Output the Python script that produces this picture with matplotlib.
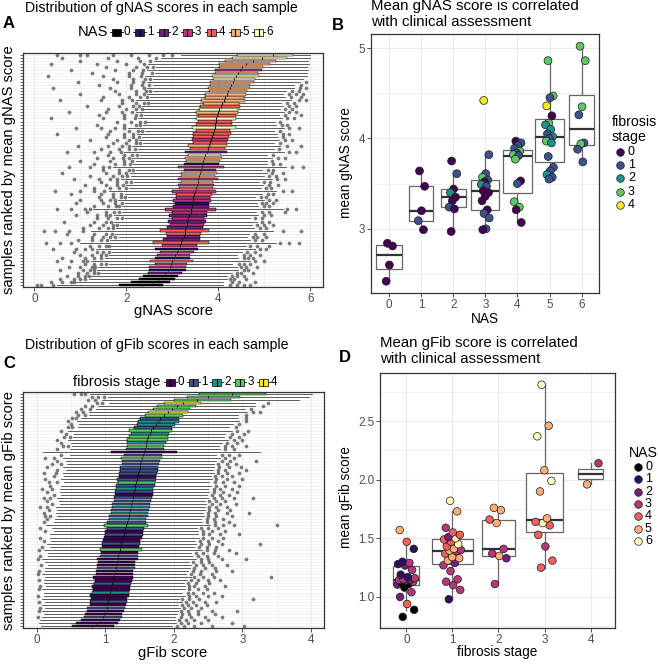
import numpy as np
import matplotlib
matplotlib.use('Agg')
import matplotlib.pyplot as plt
from matplotlib.patches import Rectangle

plt.rcParams['font.family'] = ['Liberation Sans', 'DejaVu Sans']

# ---------------- DATA ----------------
MAGMA7 = ['#000004', '#2D1160', '#721F81', '#B63679', '#F1605D', '#FEAF77', '#FCFDBF']
VIRIDIS5 = ['#440154', '#3B528B', '#21908C', '#5DC863', '#FDE725']

# Panel B: mean gNAS score per sample, grouped by NAS, coloured by fibrosis stage
nas_levels = [0, 1, 2, 3, 4, 5, 6]
b_vals = [
    [2.84, 2.81, 2.60, 2.42],
    [3.64, 3.47, 3.20, 3.09, 2.99],
    [3.75, 3.61, 3.44, 3.40, 3.35, 3.31, 3.24, 3.22, 2.97],
    [4.42, 3.82, 3.61, 3.57, 3.54, 3.52, 3.49, 3.47, 3.42, 3.40, 3.36, 3.31, 3.21, 3.17, 3.12, 3.00, 2.99],
    [3.97, 3.95, 3.92, 3.89, 3.86, 3.84, 3.82, 3.81, 3.77, 3.53, 3.50, 3.30, 3.24, 3.21, 3.07],
    [4.86, 4.47, 4.45, 4.36, 4.25, 4.17, 4.15, 4.10, 4.05, 4.02, 4.00, 3.97, 3.95, 3.80, 3.68, 3.64, 3.60, 3.57, 3.55],
    [5.02, 4.86, 4.35, 4.26, 3.95, 3.94, 3.88, 3.74],
]
b_stage = [
    [0, 0, 0, 0],
    [0, 0, 0, 1, 0],
    [0, 1, 0, 2, 0, 0, 1, 0, 0],
    [4, 1, 1, 3, 1, 0, 2, 1, 0, 0, 0, 0, 0, 1, 1, 1, 0],
    [0, 1, 1, 1, 3, 1, 3, 1, 3, 0, 1, 3, 3, 0, 0],
    [3, 3, 1, 4, 0, 3, 2, 2, 1, 2, 1, 3, 2, 1, 1, 1, 2, 1, 1],
    [3, 3, 3, 1, 1, 3, 1, 1],
]

# Panel D: mean gFib score per sample, grouped by fibrosis stage, coloured by NAS
stage_levels = [0, 1, 2, 3, 4]
d_vals = [
    [0.83, 0.89, 0.94, 1.00, 1.04, 1.08, 1.105, 1.11, 1.12, 1.13, 1.14, 1.145, 1.147, 1.15, 1.16,
     1.17, 1.19, 1.23, 1.268, 1.28, 1.29, 1.30, 1.41, 1.47, 1.57],
    [0.98, 1.06, 1.10, 1.13, 1.15, 1.22, 1.27, 1.29, 1.31, 1.33, 1.34, 1.37, 1.39, 1.395, 1.40,
     1.41, 1.43, 1.45, 1.47, 1.49, 1.50, 1.51, 1.53, 1.55, 1.59, 1.73, 1.82],
    [1.11, 1.33, 1.35, 1.37, 1.41, 1.63, 1.66, 1.74, 1.76],
    [1.25, 1.31, 1.43, 1.53, 1.61, 1.63, 1.64, 1.67, 1.90, 1.99, 2.08, 2.37, 2.46, 2.81],
    [1.96, 2.14],
]
d_nas = [
    [0, 0, 4, 2, 3, 0, 2, 0, 0, 3, 2, 3, 2, 3, 3, 1, 1, 3, 2, 1, 3, 1, 1, 4, 5],
    [1, 3, 3, 3, 3, 3, 3, 2, 5, 5, 5, 4, 3, 5, 3, 5, 4, 6, 4, 4, 6, 2, 4, 4, 3, 5, 6],
    [3, 2, 5, 3, 3, 5, 4, 5, 5],
    [4, 4, 3, 4, 4, 6, 4, 5, 5, 6, 5, 6, 5, 6],
    [5, 3],
]

# Panel A: per-sample gNAS distributions (row 0 = lowest ranked sample)
a_med = [2.35, 2.55, 2.68, 2.78, 2.85, 2.90, 2.95, 2.98, 3.00, 3.03,
         3.05, 3.10, 3.13, 3.17, 3.20, 3.22, 3.25, 3.27, 3.28, 3.30,
         3.32, 3.33, 3.35, 3.37, 3.40, 3.41, 3.42, 3.44, 3.45, 3.46,
         3.48, 3.50, 3.52, 3.53, 3.55, 3.57, 3.58, 3.60, 3.62, 3.64,
         3.65, 3.67, 3.70, 3.72, 3.75, 3.78, 3.80, 3.82, 3.84, 3.86,
         3.88, 3.90, 3.92, 3.93, 3.95, 3.96, 3.98, 4.00, 4.02, 4.05,
         4.08, 4.12, 4.15, 4.18, 4.22, 4.25, 4.28, 4.32, 4.35, 4.38,
         4.42, 4.47, 4.52, 4.60, 4.75, 4.95, 5.20]
a_box_lo = [.50, .45, .40, .42, .38, .40, .45, .35, .48, .40,
            .38, .36, .50, .40, .62, .42, .37, .40, .55, .41,
            .38, .42, .36, .45, .40, .58, .40, .38, .43, .37,
            .40, .50, .38, .41, .36, .44, .39, .40, .37, .52,
            .40, .38, .42, .37, .48, .40, .45, .38, .42, .40,
            .44, .39, .50, .41, .40, .45, .42, .48, .43, .45,
            .42, .50, .44, .46, .43, .48, .45, .50, .47, .52,
            .48, .55, .50, .58, .60, .65, .79]
a_box_hi = [.45, .40, .38, .35, .36, .40, .35, .33, .45, .36,
            .34, .37, .42, .36, .60, .38, .35, .36, .52, .37,
            .36, .40, .34, .38, .36, .55, .37, .36, .40, .35,
            .38, .45, .36, .37, .34, .42, .36, .38, .34, .48,
            .36, .36, .38, .35, .44, .37, .40, .36, .38, .37,
            .40, .36, .46, .38, .36, .42, .40, .44, .40, .42,
            .38, .47, .40, .42, .40, .44, .42, .46, .44, .50,
            .44, .48, .46, .52, .50, .55, .43]
a_whisk_lo = [1.35, 1.20, 1.10, 1.12, 1.05, 1.15, 1.12, 1.00, 1.30, 1.10,
              1.05, 1.05, 1.30, 1.10, 1.60, 1.15, 1.05, 1.12, 1.50, 1.12,
              1.08, 1.18, 1.02, 1.20, 1.10, 1.55, 1.12, 1.08, 1.20, 1.05,
              1.12, 1.38, 1.08, 1.12, 1.02, 1.25, 1.10, 1.12, 1.04, 1.42,
              1.10, 1.08, 1.15, 1.05, 1.32, 1.12, 1.22, 1.08, 1.15, 1.12,
              1.20, 1.10, 1.38, 1.15, 1.10, 1.25, 1.18, 1.32, 1.20, 1.25,
              1.15, 1.40, 1.20, 1.28, 1.20, 1.32, 1.25, 1.38, 1.30, 1.45,
              1.32, 1.48, 1.38, 1.55, 1.55, 1.55, 1.21]
a_whisk_hi = [1.30, 1.15, 1.12, 1.05, 1.08, 1.12, 1.10, 0.98, 1.25, 1.05,
              1.02, 1.05, 1.25, 1.08, 1.45, 1.10, 1.02, 1.05, 1.40, 1.10,
              1.05, 1.12, 1.00, 1.12, 1.06, 1.45, 1.08, 1.04, 1.15, 1.00,
              1.10, 1.30, 1.04, 1.08, 1.00, 1.18, 1.05, 1.08, 1.00, 1.35,
              1.06, 1.04, 1.10, 1.00, 1.25, 1.06, 1.15, 1.04, 1.10, 1.06,
              1.00, 0.95, 1.05, 0.95, 0.92, 1.00, 0.95, 1.00, 0.92, 0.95,
              0.90, 1.00, 0.90, 0.82, 0.85, 0.95, 0.95, 1.00, 1.05, 1.05,
              1.08, 1.00, 0.95, 0.85, 0.70, 0.50, 0.37]
a_out_lo = [
    [0.05, 0.15, 0.40], [0.35, 0.60, 0.80, 0.85], [0.55, 0.85, 1.00, 1.10], [0.70, 0.95, 1.10, 1.18],
    [0.95, 1.15, 1.30, 1.38], [0.55, 1.05, 1.20, 1.30], [0.75, 1.00, 1.25, 1.32], [1.10, 1.30, 1.45, 1.55],
    [0.50, 0.80, 1.05, 1.15], [0.60, 1.10, 1.30, 1.45], [1.00, 1.25, 1.45, 1.55], [0.85, 1.35, 1.50, 1.62],
    [0.40, 0.90, 1.10, 1.25], [1.20, 1.40, 1.55, 1.62], [0.25, 0.55, 0.80], [0.95, 1.25, 1.45, 1.58],
    [1.25, 1.50, 1.65, 1.75], [0.70, 1.30, 1.55, 1.68], [0.20, 0.45, 0.75, 1.05], [1.05, 1.40, 1.60, 1.70],
    [1.20, 1.50, 1.70, 1.80], [0.65, 1.30, 1.55, 1.66], [1.35, 1.60, 1.80, 1.90], [0.90, 1.35, 1.55, 1.65],
    [1.15, 1.55, 1.72, 1.85], [0.50, 0.80, 1.10, 1.20], [1.30, 1.60, 1.78, 1.85], [0.90, 1.50, 1.75, 1.90],
    [1.00, 1.45, 1.65, 1.75], [1.40, 1.70, 1.88, 1.98], [0.80, 1.45, 1.70, 1.88], [0.45, 1.00, 1.30, 1.52],
    [1.30, 1.65, 1.85, 2.00], [1.10, 1.55, 1.80, 1.93], [1.45, 1.80, 2.00, 2.10], [0.85, 1.40, 1.65, 1.80],
    [1.20, 1.70, 1.90, 2.02], [0.60, 1.55, 1.85, 2.00], [1.50, 1.85, 2.05, 2.15], [0.75, 1.20, 1.50, 1.62],
    [1.30, 1.75, 1.95, 2.08], [1.00, 1.65, 1.95, 2.12], [1.35, 1.70, 1.92, 2.05], [1.60, 1.95, 2.12, 2.24],
    [0.70, 1.30, 1.65, 1.88], [1.45, 1.85, 2.05, 2.18], [0.95, 1.60, 1.90, 2.05], [1.70, 2.00, 2.20, 2.30],
    [1.20, 1.80, 2.05, 2.20], [1.55, 1.95, 2.15, 2.28], [0.50, 1.60, 1.95, 2.15], [1.65, 2.05, 2.25, 2.35],
    [0.90, 1.45, 1.75, 1.95], [1.35, 1.95, 2.20, 2.30], [1.80, 2.10, 2.30, 2.40], [0.35, 1.50, 1.95, 2.18],
    [1.40, 1.95, 2.20, 2.32], [0.75, 1.55, 1.90, 2.12], [1.60, 2.00, 2.22, 2.33], [1.15, 1.85, 2.15, 2.28],
    [1.90, 2.20, 2.38, 2.46], [0.55, 1.45, 1.90, 2.12], [1.50, 2.05, 2.30, 2.44], [1.00, 1.85, 2.20, 2.38],
    [1.75, 2.20, 2.42, 2.52], [0.40, 1.65, 2.10, 2.38], [1.40, 2.10, 2.35, 2.50], [0.95, 1.80, 2.15, 2.36],
    [1.70, 2.15, 2.40, 2.52], [0.30, 1.50, 2.05, 2.32], [1.25, 2.05, 2.35, 2.55], [0.80, 1.75, 2.15, 2.36],
    [1.55, 2.20, 2.45, 2.58], [0.35, 1.35, 2.00, 2.38], [1.00, 1.80, 2.30, 2.52], [0.60, 1.60, 2.25, 2.65],
    [0.50, 1.00, 1.15, 1.70, 2.10, 2.50, 2.80, 3.00],
]
a_out_hi = [
    [4.25, 4.40, 4.55, 4.70], [4.30, 4.45, 4.80], [4.25, 4.35, 4.60], [4.30, 4.40, 4.55],
    [4.40, 4.50, 4.75], [4.55, 4.65], [4.50, 4.60, 4.85], [4.45, 4.55, 4.70],
    [4.80, 5.00], [4.55, 4.65, 4.75], [4.55, 4.70, 4.90], [4.62, 4.80],
    [4.90, 5.05], [4.70, 4.85, 5.10], [5.35, 5.55, 5.75], [4.80, 4.95],
    [4.75, 4.85, 5.05], [4.80, 5.00], [5.40, 5.80], [4.90, 5.05],
    [4.85, 5.00, 5.20], [4.95, 5.10], [4.80, 4.95], [5.00, 5.15],
    [4.95, 5.10, 5.45], [5.50, 5.70], [5.00, 5.10], [4.95, 5.05, 5.20],
    [5.10, 5.25], [4.92, 5.05], [5.08, 5.20], [5.40, 5.60],
    [5.05, 5.15], [5.10, 5.30], [5.00, 5.12], [5.28, 5.45],
    [5.10, 5.25], [5.18, 5.40], [5.08, 5.20], [5.60, 5.85],
    [5.20, 5.35], [5.18], [5.30, 5.45], [5.20],
    [5.55, 5.70], [5.32], [5.50, 5.80], [5.35],
    [5.45, 5.60], [5.40], [5.40, 5.55], [5.35],
    [5.55, 5.75], [5.38, 5.50], [5.35], [5.50, 5.65],
    [5.45, 5.80], [5.55, 5.70], [5.45, 5.60], [5.55, 5.70],
    [5.50, 5.65], [5.75, 5.90], [5.58, 5.80], [5.55, 5.70, 5.85],
    [5.60, 5.75], [5.78, 5.90], [5.80], [5.90],
    [], [], [], [], [], [], [], [], [],
]

# Panel C: per-sample gFib distributions (row 0 = lowest ranked sample)
c_med = [0.80, 0.88, 0.93, 0.96, 0.98, 1.00, 1.02, 1.03, 1.04, 1.05,
         1.06, 1.07, 1.08, 1.09, 1.10, 1.11, 1.12, 1.13, 1.14, 1.15,
         1.16, 1.17, 1.18, 1.19, 1.20, 1.21, 1.22, 1.23, 1.24, 1.26,
         1.27, 1.28, 1.29, 1.30, 1.31, 1.33, 1.34, 1.35, 1.36, 1.37,
         1.38, 1.39, 1.40, 1.41, 1.42, 1.43, 1.44, 1.45, 1.46, 1.47,
         1.48, 1.49, 1.50, 1.51, 1.52, 1.53, 1.55, 1.57, 1.58, 1.59,
         1.60, 1.61, 1.63, 1.65, 1.67, 1.70, 1.74, 1.77, 1.80, 1.86,
         1.92, 1.97, 2.05, 2.14, 2.34, 2.50, 2.85]
c_box_lo = [.29, .30, .28, .27, .28, .27, .28, .26, .27, .26,
            .28, .27, .26, .28, .27, .26, .30, .27, .28, .27,
            .28, .27, .30, .27, .26, .29, .27, .28, .27, .28,
            .27, .28, .27, .32, .28, .27, .28, .27, .28, .27,
            .28, .27, .28, .27, .28, .27, .28, .27, .29, .27,
            .28, .27, .28, .27, .28, .30, .27, .48, .28, .27,
            .28, .30, .28, .28, .32, .28, .28, .30, .30, .28,
            .30, .28, .30, .29, .34, .31, .49]
c_box_hi = [.32, .30, .29, .28, .27, .28, .27, .27, .28, .26,
            .28, .27, .28, .27, .27, .28, .28, .27, .27, .28,
            .27, .27, .30, .28, .27, .32, .27, .28, .27, .28,
            .28, .27, .27, .33, .28, .27, .28, .27, .28, .28,
            .27, .27, .28, .28, .27, .27, .28, .27, .28, .27,
            .28, .28, .27, .27, .28, .30, .27, .48, .28, .27,
            .28, .30, .28, .28, .30, .28, .28, .30, .28, .27,
            .28, .27, .28, .25, .49, .47, .49]
c_whisk_lo = [.45, .55, .60, .62, .60, .65, .62, .70, .65, .72,
              .68, .70, .75, .68, .72, .75, .70, .78, .74, .76,
              .72, .78, .80, .76, .78, .82, .76, .80, .76, .78,
              .80, .75, .80, .85, .78, .80, .76, .80, .78, .82,
              .76, .80, .82, .78, .80, .82, .80, .78, .82, .80,
              .82, .80, .84, .80, .82, .85, .80, 1.00, .82, .80,
              .82, .85, .82, .82, .90, .82, .84, .88, .86, .82,
              .86, .82, .86, .80, 1.05, 1.15, 1.58]
c_whisk_hi = [.85, .85, .80, .78, .80, .78, .80, .76, .80, .76,
              .82, .78, .80, .80, .78, .80, .85, .78, .80, .80,
              .82, .78, .85, .80, .78, .88, .80, .82, .80, .82,
              .80, .80, .78, .90, .82, .80, .82, .80, .82, .80,
              .82, .80, .82, .80, .82, .80, .82, .80, .82, .80,
              .82, .80, .82, .80, .82, .85, .80, 1.20, .82, .80,
              .82, .88, .82, .82, .88, .82, .84, .88, .86, .80,
              .86, .80, .86, .80, 1.00, 1.00, .68]
c_out_lo = [
    [], [], [], [0.02], [], [0.03], [0.05], [], [0.04], [],
    [0.02], [], [0.03], [0.05], [], [0.03], [], [0.02], [0.04], [],
    [0.06], [], [0.02], [0.05], [], [0.03], [0.08], [], [0.10], [0.05],
    [], [0.12], [0.05], [], [0.10], [0.15], [0.12, 0.20], [0.10], [0.18], [0.05, 0.15],
    [0.22], [0.15], [0.10, 0.20], [0.25], [0.15], [0.08, 0.22], [0.20], [0.18, 0.30], [0.12], [0.25],
    [0.10, 0.28], [0.30], [0.15], [0.22, 0.35], [0.30], [0.12, 0.25], [0.35], [], [0.30], [0.38, 0.45],
    [0.35], [0.30], [0.40, 0.48], [0.42], [0.35], [0.45, 0.52], [0.50], [0.45], [0.52, 0.58], [0.60, 0.70],
    [0.58, 0.68], [0.65, 0.78], [0.70, 0.80], [0.88, 0.95], [0.75, 0.85], [0.80, 0.90, 0.98], [0.55, 0.65, 0.70],
]
c_out_hi = [
    [2.05, 2.15, 2.30, 2.55, 3.02], [2.10, 2.20, 2.40, 2.85], [2.08, 2.18, 2.30, 2.50], [2.10, 2.25, 2.45, 2.70],
    [2.12, 2.22, 2.35, 2.60], [2.10, 2.20, 2.35, 2.55, 2.92], [2.15, 2.25, 2.40], [2.12, 2.20, 2.32, 2.48],
    [2.18, 2.28, 2.45, 2.62], [2.12, 2.22, 2.36, 3.15], [2.22, 2.32, 2.50, 2.70], [2.20, 2.28, 2.42, 2.58],
    [2.22, 2.35, 2.48], [2.22, 2.30, 2.45, 2.75], [2.20, 2.32, 2.52], [2.25, 2.35, 2.50, 2.68],
    [2.30, 2.42, 2.58, 3.42], [2.25, 2.38, 2.55], [2.28, 2.40, 2.62, 2.85], [2.30, 2.45, 2.60],
    [2.32, 2.42, 2.55, 2.78], [2.28, 2.40, 2.52], [2.40, 2.50, 2.70, 3.05], [2.35, 2.48, 2.65],
    [2.32, 2.42, 2.58, 2.90], [2.48, 2.60, 2.80], [2.36, 2.48, 2.62], [2.40, 2.52, 2.70, 3.25],
    [2.38, 2.50, 2.65], [2.42, 2.55, 2.72], [2.42, 2.52, 2.68, 2.95], [2.42, 2.55, 2.75],
    [2.40, 2.50, 2.65], [2.60, 2.72, 2.88, 3.50], [2.48, 2.60, 2.80], [2.48, 2.58, 2.72],
    [2.50, 2.62, 2.85], [2.50, 2.60, 2.78, 3.10], [2.52, 2.65, 2.82], [2.52, 2.62, 2.78],
    [2.55, 2.68, 2.90], [2.52, 2.62, 2.75], [2.58, 2.70, 2.88, 3.15], [2.55, 2.68, 2.80],
    [2.58, 2.72, 2.92], [2.58, 2.68, 2.85], [2.62, 2.75, 2.95], [2.60, 2.72, 2.88],
    [2.62, 2.78, 3.00], [2.60, 2.70, 2.85], [2.65, 2.78, 2.95], [2.65, 2.75, 3.05],
    [2.66, 2.80, 2.98], [2.65, 2.78, 2.90], [2.70, 2.82, 3.20], [2.75, 2.88],
    [2.70, 2.80, 2.95], [], [2.75, 2.88], [2.75, 2.85, 3.05],
    [2.78, 2.92], [2.88, 3.00], [2.82, 2.95], [2.85, 3.02],
    [2.92, 3.08], [2.90], [2.95], [3.05],
    [3.05], [3.05], [3.15, 3.25], [3.12], [3.30], [3.38], [], [], [],
]

# ---------------- FIGURE ----------------
W, H = 658, 664
fig = plt.figure(figsize=(W / 100, H / 100), dpi=100)


def ax_rect(l, t, r, b):
    return [l / W, 1 - b / H, (r - l) / W, (b - t) / H]


GRID = '#EBEBEB'
FRAME = '#333333'
TICKC = '#4D4D4D'


def style_frame(ax):
    for s in ax.spines.values():
        s.set_color(FRAME)
        s.set_linewidth(0.9)
    ax.tick_params(colors=FRAME, labelcolor=TICKC, labelsize=8.4, length=2.6, width=0.6, pad=1.5)
    ax.set_axisbelow(True)


def golden_offsets(n, w):
    return [((k * 0.6180339887 + 0.31) % 1.0 - 0.5) * 2 * w for k in range(n)]


def ranked_colors(vals, groups, palette):
    pairs = []
    for vs, gs in zip(vals, groups):
        pairs += list(zip(vs, gs))
    pairs.sort(key=lambda p: p[0])
    return [palette[g] for _, g in pairs]


def draw_ranked_boxes(ax, med, blo, bhi, wlo, whi, olo, ohi, colors):
    stats = []
    for i in range(len(med)):
        q1 = med[i] - blo[i]
        q3 = med[i] + bhi[i]
        stats.append(dict(med=med[i], q1=q1, q3=q3, whislo=q1 - wlo[i], whishi=q3 + whi[i],
                          fliers=np.array(olo[i] + ohi[i])))
    pos = np.arange(len(med))
    bp = ax.bxp(stats, positions=pos, widths=0.85, orientation='horizontal', patch_artist=True,
                showcaps=False, manage_ticks=False,
                boxprops=dict(linewidth=0.35, edgecolor='black'),
                medianprops=dict(color='#111111', linewidth=0.8),
                whiskerprops=dict(color='#222222', linewidth=0.5),
                flierprops=dict(marker='o', markerfacecolor='#262626', markeredgecolor='none',
                                markersize=2.7, alpha=0.6))
    for patch, c in zip(bp['boxes'], colors):
        patch.set_facecolor(c)
    ax.set_yticks(pos)
    ax.set_yticklabels([])
    ax.set_ylim(-0.6, len(med) - 0.4)
    ax.yaxis.grid(True, color=GRID, linewidth=0.5)


# ---- Panel A ----
axA = fig.add_axes(ax_rect(23, 53, 323, 287))
style_frame(axA)
a_colors = ranked_colors(b_vals, [[n] * len(v) for n, v in zip(nas_levels, b_vals)], MAGMA7)
draw_ranked_boxes(axA, a_med, a_box_lo, a_box_hi, a_whisk_lo, a_whisk_hi, a_out_lo, a_out_hi, a_colors)
axA.set_xlim(-0.25, 6.28)
axA.set_xticks([0, 2, 4, 6])
axA.set_xticks([1, 3, 5], minor=True)
axA.xaxis.grid(True, which='major', color=GRID, linewidth=0.8)
axA.xaxis.grid(True, which='minor', color=GRID, linewidth=0.5)
axA.tick_params(axis='x', which='minor', length=0)
axA.tick_params(axis='y', length=2.2, width=0.5)

# ---- Panel C ----
axC = fig.add_axes(ax_rect(23, 392, 324, 628))
style_frame(axC)
c_colors = ranked_colors(d_vals, [[s] * len(v) for s, v in zip(stage_levels, d_vals)], VIRIDIS5)
draw_ranked_boxes(axC, c_med, c_box_lo, c_box_hi, c_whisk_lo, c_whisk_hi, c_out_lo, c_out_hi, c_colors)
axC.set_xlim(-0.2, 4.19)
axC.set_xticks([0, 1, 2, 3, 4])
axC.set_xticks([0.5, 1.5, 2.5, 3.5], minor=True)
axC.xaxis.grid(True, which='major', color=GRID, linewidth=0.8)
axC.xaxis.grid(True, which='minor', color=GRID, linewidth=0.5)
axC.tick_params(axis='x', which='minor', length=0)
axC.tick_params(axis='y', length=2.2, width=0.5)


def group_panel(ax, groups, vals, cols, palette, widths, jw, s):
    ax.boxplot(vals, positions=groups, widths=widths, orientation='vertical', patch_artist=True,
               showfliers=False, showcaps=False, manage_ticks=False, whis=1.5,
               boxprops=dict(facecolor='white', edgecolor='#666666', linewidth=0.9),
               medianprops=dict(color='#333333', linewidth=1.6),
               whiskerprops=dict(color='#666666', linewidth=0.9))
    for g, vs, cs in zip(groups, vals, cols):
        offs = golden_offsets(len(vs), jw)
        ax.scatter([g + o for o in offs], vs, s=s, c=[palette[c] for c in cs],
                   edgecolors='#1A1A1A', linewidths=0.5, zorder=3)
    ax.set_xticks(groups)
    ax.xaxis.grid(True, color=GRID, linewidth=0.8)
    ax.yaxis.grid(True, which='major', color=GRID, linewidth=0.8)
    ax.yaxis.grid(True, which='minor', color=GRID, linewidth=0.5)
    ax.tick_params(axis='y', which='minor', length=0)


# ---- Panel B ----
axB = fig.add_axes(ax_rect(371, 34, 599, 293))
style_frame(axB)
group_panel(axB, nas_levels, b_vals, b_stage, VIRIDIS5,
            [0.78, 0.76, 0.78, 0.88, 0.90, 0.91, 0.78], 0.13, 32)
axB.set_xlim(-0.56, 6.54)
axB.set_ylim(2.29, 5.155)
axB.set_yticks([3, 4, 5])
axB.set_yticks([2.5, 3.5, 4.5], minor=True)

# ---- Panel D ----
axD = fig.add_axes(ax_rect(380, 373, 615, 628))
style_frame(axD)
group_panel(axD, stage_levels, d_vals, d_nas, MAGMA7,
            [0.56, 0.89, 0.71, 0.79, 0.54], 0.2, 30)
axD.set_xlim(-0.57, 4.53)
axD.set_ylim(0.735, 2.91)
axD.set_yticks([1.0, 1.5, 2.0, 2.5])
axD.set_yticklabels(['1.0', '1.5', '2.0', '2.5'])
axD.set_yticks([0.75, 1.25, 1.75, 2.25, 2.75], minor=True)

# ---------------- TEXT / LEGENDS (pixel overlay) ----------------
ov = fig.add_axes([0, 0, 1, 1], facecolor='none')
ov.set_xlim(0, W)
ov.set_ylim(H, 0)
ov.axis('off')

TS_L = 10.2   # titles of left panels
TS_R = 10.8   # titles of right panels
LS_L = 10.6   # axis labels of left panels
LS_R = 9.8    # axis labels of right panels
LT_R = 10.2   # legend titles of right panels
KS = 8.4      # legend labels

# titles & panel letters
ov.text(25, 8, 'Distribution of gNAS scores in each sample', fontsize=TS_L, va='center', ha='left')
ov.text(3, 24, 'A', fontsize=12, fontweight='bold', va='center', ha='left')
ov.text(371, 6, 'Mean gNAS score is correlated', fontsize=TS_R, va='center', ha='left')
ov.text(371, 22, 'with clinical assessment', fontsize=TS_R, va='center', ha='left')
ov.text(332, 25, 'B', fontsize=12, fontweight='bold', va='center', ha='left')
ov.text(25, 345, 'Distribution of gFib scores in each sample', fontsize=TS_L, va='center', ha='left')
ov.text(3, 363, 'C', fontsize=12, fontweight='bold', va='center', ha='left')
ov.text(380, 343, 'Mean gFib score is correlated', fontsize=TS_R, va='center', ha='left')
ov.text(380, 359, 'with clinical assessment', fontsize=TS_R, va='center', ha='left')
ov.text(339, 358, 'D', fontsize=12, fontweight='bold', va='center', ha='left')

# axis labels
ov.text(173, 311, 'gNAS score', fontsize=LS_L, ha='center', va='center')
ov.text(9, 170, 'samples ranked by mean gNAS score', fontsize=LS_L, rotation=90, ha='center', va='center')
ov.text(485, 319, 'NAS', fontsize=LS_R, ha='center', va='center')
ov.text(346, 163, 'mean gNAS score', fontsize=LS_R, rotation=90, ha='center', va='center')
ov.text(173, 653, 'gFib score', fontsize=LS_L, ha='center', va='center')
ov.text(9, 510, 'samples ranked by mean gFib score', fontsize=LS_L, rotation=90, ha='center', va='center')
ov.text(497, 652, 'fibrosis stage', fontsize=LS_R, ha='center', va='center')
ov.text(346, 497, 'mean gFib score', fontsize=LS_R, rotation=90, ha='center', va='center')


def key_box(cx, cy, color):
    ov.plot([cx - 6.5, cx + 6.5], [cy, cy], color='black', lw=0.6, zorder=1)
    ov.add_patch(Rectangle((cx - 4.5, cy - 3.5), 9, 7, facecolor=color, edgecolor='black', lw=0.5, zorder=2))
    ov.plot([cx, cx], [cy - 3.5, cy + 3.5], color='black', lw=0.8, zorder=3)


# legend A
ov.text(78, 32, 'NAS', fontsize=LS_L, va='center', ha='left')
for k, lev in enumerate(nas_levels):
    cx = 116 + 23.8 * k
    key_box(cx, 32, MAGMA7[lev])
    ov.text(cx + 7.5, 32, str(lev), fontsize=KS, va='center', ha='left')

# legend C
ov.text(73, 382, 'fibrosis stage', fontsize=LS_L, va='center', ha='left')
for k, lev in enumerate(stage_levels):
    cx = 170 + 23.3 * k
    key_box(cx, 382, VIRIDIS5[lev])
    ov.text(cx + 7.5, 382, str(lev), fontsize=KS, va='center', ha='left')

# legend B
ov.text(612, 122, 'fibrosis', fontsize=LT_R, va='center', ha='left')
ov.text(612, 137, 'stage', fontsize=LT_R, va='center', ha='left')
for k, lev in enumerate(stage_levels):
    cy = 152 + 13.2 * k
    ov.scatter([620], [cy], s=30, c=VIRIDIS5[lev], edgecolors='#1A1A1A', linewidths=0.5)
    ov.text(628, cy, str(lev), fontsize=9, va='center', ha='left')

# legend D
ov.text(629, 453, 'NAS', fontsize=LT_R, va='center', ha='left')
for k, lev in enumerate(nas_levels):
    cy = 467 + 12.35 * k
    ov.scatter([638], [cy], s=30, c=MAGMA7[lev], edgecolors='#1A1A1A', linewidths=0.5)
    ov.text(645, cy, str(lev), fontsize=9, va='center', ha='left')

fig.savefig('out.png', dpi=100)
